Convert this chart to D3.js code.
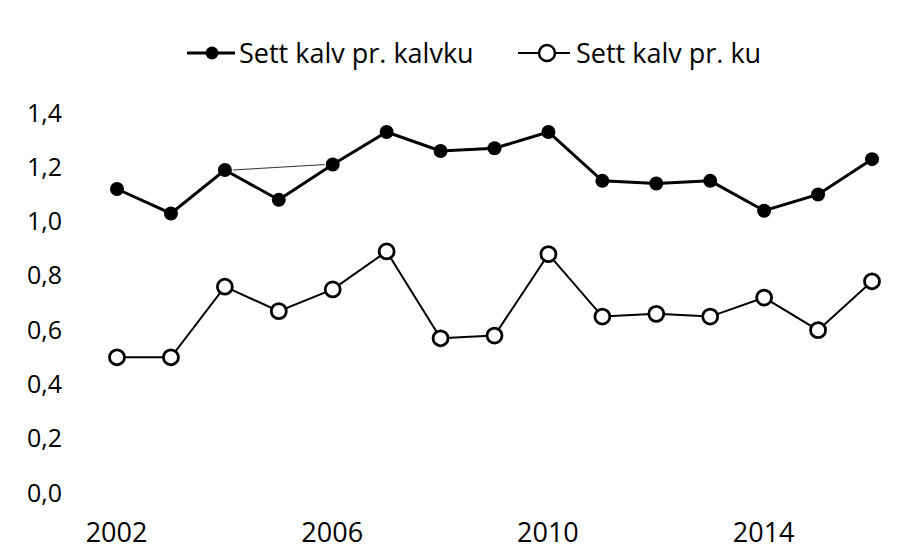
<!DOCTYPE html>
<html>
<head>
<meta charset="utf-8">
<script src="https://cdn.jsdelivr.net/npm/d3@7"></script>
<style>
	body { margin: 0; background: #fff; }
	text { font-family: "Open Sans", sans-serif; fill: #000; }
</style>
</head>
<body>
<div id="chart"></div>
<script>
var years = [2002, 2003, 2004, 2005, 2006, 2007, 2008, 2009, 2010, 2011, 2012, 2013, 2014, 2015, 2016];
var kalvku = [1.12, 1.03, 1.19, 1.08, 1.21, 1.33, 1.26, 1.27, 1.33, 1.15, 1.14, 1.15, 1.04, 1.10, 1.23];
var ku = [0.50, 0.50, 0.76, 0.67, 0.75, 0.89, 0.57, 0.58, 0.88, 0.65, 0.66, 0.65, 0.72, 0.60, 0.78];
var yTicks = [0, 0.2, 0.4, 0.6, 0.8, 1.0, 1.2, 1.4];
var xTicks = [2002, 2006, 2010, 2014];
var seriesNames = ["Sett kalv pr. kalvku", "Sett kalv pr. ku"];

var width = 918, height = 560;

var svg = d3.select("#chart")
	.append("svg")
	.attr("width", width)
	.attr("height", height);

var x = d3.scalePoint()
	.domain(years)
	.range([117, 872]);

var y = d3.scaleLinear()
	.domain([0, 1.4])
	.range([493, 113]);

var fmt = function(d) { return d3.format(".1f")(d).replace(".", ","); };

// y axis, labels only
var yAxis = svg.append("g")
	.attr("transform", "translate(62,0)")
	.call(d3.axisLeft(y).tickValues(yTicks).tickFormat(fmt).tickSize(0).tickPadding(0));
yAxis.select(".domain").remove();
yAxis.selectAll("text")
	.attr("font-size", 25)
	.attr("font-family", null);

// x axis, labels only
var xAxis = svg.append("g")
	.attr("transform", "translate(-1,523)")
	.call(d3.axisBottom(x).tickValues(xTicks).tickSize(0).tickPadding(0));
xAxis.select(".domain").remove();
xAxis.selectAll("text")
	.attr("font-size", 27)
	.attr("font-family", null);

// thin stray line between 2004 and 2006 seen in the source
svg.append("line")
	.attr("x1", x(years[2]) + 8)
	.attr("y1", y(kalvku[2]))
	.attr("x2", x(years[4]) - 8)
	.attr("y2", y(kalvku[4]))
	.attr("stroke", "#333")
	.attr("stroke-width", 1);

var line = function(vals) {
	return d3.line()
		.x(function(d, i) { return x(years[i]); })
		.y(function(d) { return y(d); })(vals);
};

svg.append("path")
	.attr("d", line(kalvku))
	.attr("fill", "none")
	.attr("stroke", "#000")
	.attr("stroke-width", 3);

svg.selectAll("circle.kalvku")
	.data(kalvku)
	.enter()
	.append("circle")
	.attr("class", "kalvku")
	.attr("cx", function(d, i) { return x(years[i]); })
	.attr("cy", function(d) { return y(d); })
	.attr("r", 7)
	.attr("fill", "#000");

svg.append("path")
	.attr("d", line(ku))
	.attr("fill", "none")
	.attr("stroke", "#000")
	.attr("stroke-width", 2);

svg.selectAll("circle.ku")
	.data(ku)
	.enter()
	.append("circle")
	.attr("class", "ku")
	.attr("cx", function(d, i) { return x(years[i]); })
	.attr("cy", function(d) { return y(d); })
	.attr("r", 7.5)
	.attr("fill", "#fff")
	.attr("stroke", "#000")
	.attr("stroke-width", 2.8);

// legend
var legend = [
	{ name: seriesNames[0], x0: 187, filled: true },
	{ name: seriesNames[1], x0: 518, filled: false }
];
var lg = svg.selectAll("g.legend")
	.data(legend)
	.enter()
	.append("g")
	.attr("class", "legend")
	.attr("transform", function(d) { return "translate(" + d.x0 + ",53)"; });

lg.append("line")
	.attr("x1", 0)
	.attr("x2", function(d) { return d.filled ? 48 : 52; })
	.attr("y1", 0)
	.attr("y2", 0)
	.attr("stroke", "#000")
	.attr("stroke-width", function(d) { return d.filled ? 3 : 2; });

lg.append("circle")
	.attr("cx", function(d) { return d.filled ? 25 : 29; })
	.attr("cy", 0)
	.attr("r", function(d) { return d.filled ? 6.5 : 8; })
	.attr("fill", function(d) { return d.filled ? "#000" : "#fff"; })
	.attr("stroke", "#000")
	.attr("stroke-width", function(d) { return d.filled ? 0 : 2.5; });

lg.append("text")
	.attr("x", function(d) { return d.filled ? 52 : 58; })
	.attr("y", 10)
	.attr("font-size", 27)
	.text(function(d) { return d.name; });
</script>
</body>
</html>
